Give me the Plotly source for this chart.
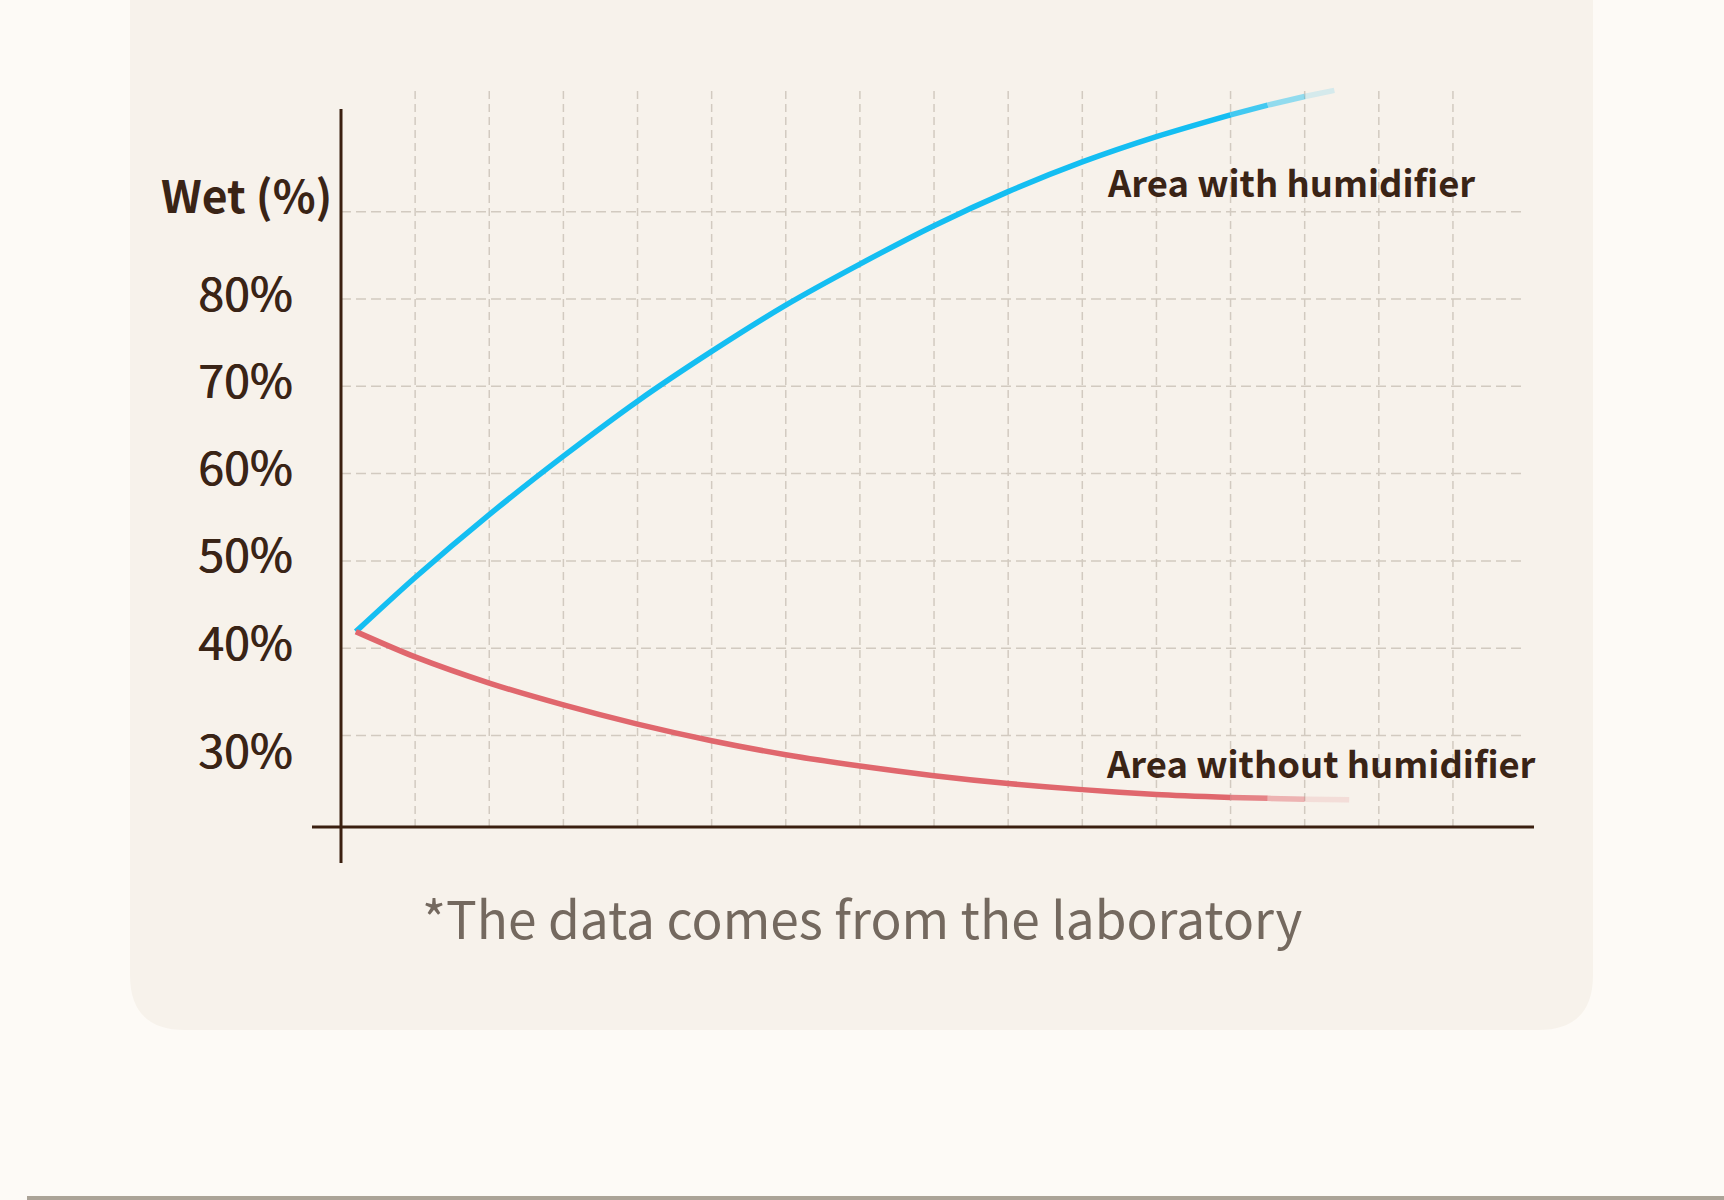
import plotly.graph_objects as go

# ---------------- data ----------------
series_names = ["Area with humidifier", "Area without humidifier"]
blue_x = [0.2, 1, 2, 3, 4, 5, 6, 7, 8, 9, 10, 11, 12, 12.5, 13, 13.4]
blue_y = [41.9, 48.1, 55.3, 62.0, 68.3, 74.0, 79.3, 84.0, 88.4, 92.3, 95.7, 98.6, 101.1, 102.2, 103.2, 103.9]
red_x = [0.2, 1, 2, 3, 4, 5, 6, 7, 8, 9, 10, 11, 12, 12.5, 13, 13.6]
red_y = [41.9, 39.0, 36.0, 33.5, 31.3, 29.4, 27.8, 26.5, 25.4, 24.5, 23.8, 23.25, 22.9, 22.8, 22.7, 22.65]
y_tick_vals = [80, 70, 60, 50, 40, 30]
y_tick_text = ["80%", "70%", "60%", "50%", "40%", "30%"]
grid_y_vals = [30, 40, 50, 60, 70, 80, 90]
grid_x_vals = list(range(1, 16))
axis_title = "Wet (%)"
footnote = "*The data comes from the laboratory"

# ---------------- geometry helpers (pixels) ----------------
W, H = 1724, 1200
X0, XU = 341.0, 74.13      # pixel of x=0, pixels per x unit
Y80, YU = 299.0, 8.73      # pixel of 80%, pixels per 1%


def px(xp):
    return xp / W


def py(yp):
    return 1 - yp / H


def dx(xp):
    return (xp - X0) / XU


def dy(yp):
    return 80 + (Y80 - yp) / YU


L, R, T, B = 250, 1560, 60, 900

PAGE = "#FDFAF6"
CARD = "#F7F2EB"
DARK = "#3B2010"
TEXT = "#3A2416"
GRID = "#D2CAC0"
BLUE = (20, 190, 242)
RED = (224, 103, 109)
FONT = "Noto Sans CJK SC, Source Sans Pro, Noto Sans, sans-serif"
LW = 5.5

fig = go.Figure()


def add_faded(xs, ys, rgb, solid_upto, alphas):
    fig.add_trace(go.Scatter(
        x=xs[:solid_upto + 1], y=ys[:solid_upto + 1], mode="lines",
        line=dict(color="rgb(%d,%d,%d)" % rgb, width=LW, shape="spline", smoothing=0.8),
        hoverinfo="skip", showlegend=False))
    for k, a in enumerate(alphas):
        i = solid_upto + k
        fig.add_trace(go.Scatter(
            x=xs[i:i + 2], y=ys[i:i + 2], mode="lines",
            line=dict(color="rgba(%d,%d,%d,%.2f)" % (rgb + (a,)), width=LW),
            hoverinfo="skip", showlegend=False))


add_faded(blue_x, blue_y, BLUE, 12, [0.8, 0.45, 0.15])
add_faded(red_x, red_y, RED, 12, [0.8, 0.45, 0.15])

shapes = []
cl, cr, ct, cb, rad = 130, 1593, -100, 1030, 55
path = ("M {a},{b} L {a},{c} Q {a},{d} {e},{d} L {f},{d} Q {g},{d} {g},{c} L {g},{b} Z").format(
    a=px(cl), b=py(ct), c=py(cb - rad), d=py(cb), e=px(cl + rad), f=px(cr - rad), g=px(cr))
shapes.append(dict(type="path", path=path, xref="paper", yref="paper",
                   fillcolor=CARD, line=dict(width=0), layer="below"))
shapes.append(dict(type="rect", xref="paper", yref="paper", x0=px(27), x1=px(1724),
                   y0=py(1200), y1=py(1196), fillcolor="#ABA397", line=dict(width=0), layer="below"))

x_end = dx(1521)
y_top = dy(88)
x_axis_y = dy(827)
for v in grid_y_vals:
    shapes.append(dict(type="line", xref="x", yref="y", x0=0, x1=x_end, y0=v, y1=v,
                       line=dict(color=GRID, width=1.5, dash="10px,5px"), layer="between"))
for g in grid_x_vals:
    shapes.append(dict(type="line", xref="x", yref="y", x0=g, x1=g, y0=x_axis_y, y1=y_top,
                       line=dict(color=GRID, width=1.5, dash="8px,5px"), layer="between"))

shapes.append(dict(type="line", xref="x", yref="y", x0=0, x1=0, y0=dy(863), y1=dy(109),
                   line=dict(color=DARK, width=3), layer="above"))
shapes.append(dict(type="line", xref="x", yref="y", x0=dx(312), x1=dx(1534), y0=x_axis_y, y1=x_axis_y,
                   line=dict(color=DARK, width=3), layer="above"))

annotations = []
annotations.append(dict(text=axis_title, xref="paper", yref="paper", x=px(334), y=py(193),
                        xanchor="right", yanchor="middle", showarrow=False,
                        font=dict(family=FONT, size=44.5, color=TEXT, weight=700)))
for v, t in zip(y_tick_vals, y_tick_text):
    annotations.append(dict(text=t, xref="paper", yref="y", x=px(245), y=v,
                            xanchor="center", yanchor="middle", showarrow=False,
                            yshift=(-12 if v == 30 else 9),
                            font=dict(family=FONT, size=46.5, color=TEXT,
                                      shadow="0.8px 0 0 #3A2416")))
annotations.append(dict(text=series_names[0], xref="paper", yref="paper", x=px(1105), y=py(181),
                        xanchor="left", yanchor="middle", showarrow=False,
                        font=dict(family=FONT, size=36.4, color=TEXT, weight=700)))
annotations.append(dict(text=series_names[1], xref="paper", yref="paper", x=px(1104), y=py(762),
                        xanchor="left", yanchor="middle", showarrow=False,
                        font=dict(family=FONT, size=36.4, color=TEXT, weight=700)))
annotations.append(dict(text=footnote, xref="paper", yref="paper", x=px(862), y=py(916),
                        xanchor="center", yanchor="middle", showarrow=False,
                        font=dict(family=FONT, size=51.4, color="#74695F")))

fig.update_layout(
    width=W, height=H,
    margin=dict(l=0, r=0, t=0, b=0, pad=0),
    paper_bgcolor=PAGE, plot_bgcolor="rgba(0,0,0,0)",
    xaxis=dict(domain=[px(L), px(R)], range=[dx(L), dx(R)], visible=False, fixedrange=True),
    yaxis=dict(domain=[py(B), py(T)], range=[dy(B), dy(T)], visible=False, fixedrange=True),
    shapes=shapes, annotations=annotations, showlegend=False,
)

fig.write_html("out.html")
